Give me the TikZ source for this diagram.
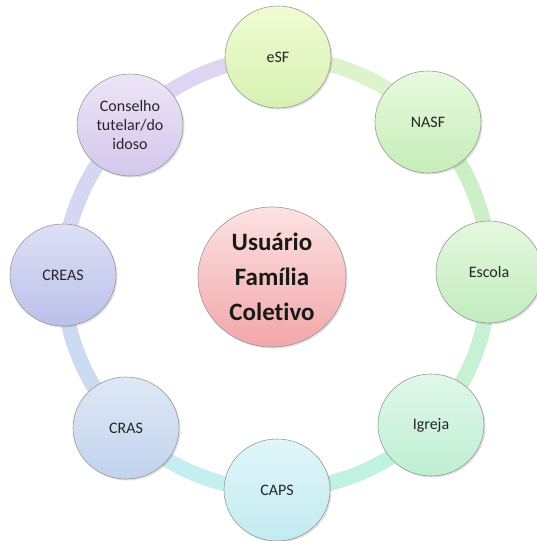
\documentclass[tikz,border=0pt]{standalone}
\usepackage{fontspec}
\setmainfont{Carlito}[Ligatures=NoCommon]
\usetikzlibrary{shapes.geometric,shadows,backgrounds}
\definecolor{fEsfT}{HTML}{F0FCD2}\definecolor{fEsfB}{HTML}{D6F1B2}
\definecolor{fNasfT}{HTML}{E8FADE}\definecolor{fNasfB}{HTML}{C6EDB8}
\definecolor{fEscT}{HTML}{E4F8DE}\definecolor{fEscB}{HTML}{C2ECBE}
\definecolor{fIgrT}{HTML}{E0F8EA}\definecolor{fIgrB}{HTML}{BEEFD2}
\definecolor{fCapsT}{HTML}{E0F6FA}\definecolor{fCapsB}{HTML}{C2EBF0}
\definecolor{fCrasT}{HTML}{DEE8F6}\definecolor{fCrasB}{HTML}{C2D3EE}
\definecolor{fCreasT}{HTML}{DDE0F6}\definecolor{fCreasB}{HTML}{BBC0EA}
\definecolor{fConsT}{HTML}{EDE5F7}\definecolor{fConsB}{HTML}{D3C7EC}
\definecolor{fCenT}{HTML}{FDE2E2}\definecolor{fCenB}{HTML}{F2A6AA}
\definecolor{sA}{HTML}{DCF4CC}
\definecolor{sB}{HTML}{CCF0C6}
\definecolor{sC}{HTML}{C4F2D2}
\definecolor{sD}{HTML}{C0F2E0}
\definecolor{sE}{HTML}{C4EEF0}
\definecolor{sF}{HTML}{CCDAF2}
\definecolor{sG}{HTML}{D4D6F2}
\definecolor{sH}{HTML}{DED6F0}
\begin{document}
\begin{tikzpicture}[x=1pt,y=-1pt,
  outer/.style={ellipse, draw=black!40, line width=0.6pt, minimum width=106pt,
    minimum height=102pt, inner sep=0pt, align=center,
    font=\fontsize{16}{19}\selectfont, text=black!85,
    drop shadow={shadow xshift=1.5pt, shadow yshift=-1.5pt, opacity=0.25}},
  centre/.style={ellipse, draw=black!40, line width=0.6pt, minimum width=148pt,
    minimum height=140pt, inner sep=0pt, align=center,
    font=\fontsize{25}{35}\selectfont\bfseries, text=black!90,
    drop shadow={shadow xshift=1.5pt, shadow yshift=-1.5pt, opacity=0.25},
    top color=fCenT, bottom color=fCenB},
  band/.style={line width=15pt, line cap=round},
  bandshadow/.style={line width=15pt, line cap=round, draw=black, opacity=0.12}]
\useasboundingbox (0,0) rectangle (537,541);
\node[outer, top color=fEsfT, bottom color=fEsfB] (esf) at (278,57) {eSF};
\node[outer, top color=fNasfT, bottom color=fNasfB] (nasf) at (428,122) {NASF};
\node[outer, top color=fEscT, bottom color=fEscB] (escola) at (489,272) {Escola};
\node[outer, top color=fIgrT, bottom color=fIgrB] (igreja) at (431,425) {Igreja};
\node[outer, top color=fCapsT, bottom color=fCapsB] (caps) at (277,490) {CAPS};
\node[outer, top color=fCrasT, bottom color=fCrasB] (cras) at (126,428) {CRAS};
\node[outer, top color=fCreasT, bottom color=fCreasB] (creas) at (63,275) {CREAS};
\node[outer, top color=fConsT, bottom color=fConsB] (cons) at (130,125) {Conselho\\tutelar/do\\idoso};
\node[centre] (c) at (272,277) {Usuário\\Família\\Coletivo};
\begin{pgfonlayer}{background}
\begin{scope}[shift={(1.5,1.5)}]
\foreach \a/\b in {esf/nasf,nasf/escola,escola/igreja,igreja/caps,caps/cras,cras/creas,creas/cons,cons/esf}
  \draw[bandshadow] (\a.center) to[bend left=22.5, looseness=0.885] (\b.center);
\end{scope}
\draw[band, draw=sA] (esf.center) to[bend left=22.5, looseness=0.885] (nasf.center);
\draw[band, draw=sB] (nasf.center) to[bend left=22.5, looseness=0.885] (escola.center);
\draw[band, draw=sC] (escola.center) to[bend left=22.5, looseness=0.885] (igreja.center);
\draw[band, draw=sD] (igreja.center) to[bend left=22.5, looseness=0.885] (caps.center);
\draw[band, draw=sE] (caps.center) to[bend left=22.5, looseness=0.885] (cras.center);
\draw[band, draw=sF] (cras.center) to[bend left=22.5, looseness=0.885] (creas.center);
\draw[band, draw=sG] (creas.center) to[bend left=22.5, looseness=0.885] (cons.center);
\draw[band, draw=sH] (cons.center) to[bend left=22.5, looseness=0.885] (esf.center);
\end{pgfonlayer}
\end{tikzpicture}
\end{document}
